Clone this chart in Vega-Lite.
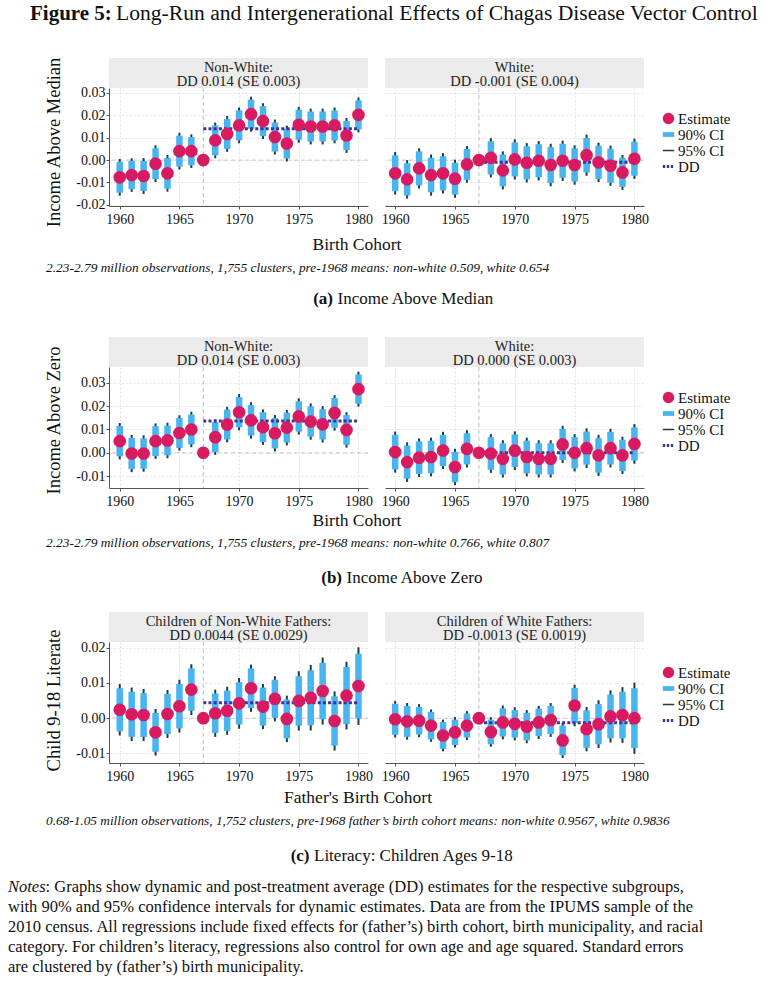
{
  "$schema": "https://vega.github.io/schema/vega-lite/v6.json",
  "padding": 0,
  "background": "white",
  "spacing": 0,
  "config": {
    "font": "Liberation Serif",
    "view": {"stroke": null},
    "axis": {"labelFont": "Liberation Serif", "labelFontSize": 14, "labelColor": "#111", "titleFont": "Liberation Serif", "titleFontWeight": "normal", "titleColor": "#111", "domainColor": "#555", "tickColor": "#555", "tickSize": 3, "gridColor": "#e2e2e2", "gridDash": [2, 2], "labelPadding": 3, "labelOverlap": false, "labelFlush": false},
    "legend": {"labelFont": "Liberation Serif", "labelFontSize": 15, "labelColor": "#111"},
    "text": {"font": "Liberation Serif", "color": "#111"}
  },
  "resolve": {"scale": {"color": "independent"}, "legend": {"color": "independent"}},
  "datasets": {
    "aNW": [
      {"year": 1960, "est": -0.0077, "lo90": -0.0146, "hi90": -0.0008, "lo95": -0.0159, "hi95": 0.0005},
      {"year": 1961, "est": -0.0067, "lo90": -0.0130, "hi90": -0.0004, "lo95": -0.0142, "hi95": 0.0008},
      {"year": 1962, "est": -0.0071, "lo90": -0.0138, "hi90": -0.0004, "lo95": -0.0151, "hi95": 0.0009},
      {"year": 1963, "est": -0.0016, "lo90": -0.0085, "hi90": 0.0053, "lo95": -0.0098, "hi95": 0.0066},
      {"year": 1964, "est": -0.0059, "lo90": -0.0128, "hi90": 0.0010, "lo95": -0.0141, "hi95": 0.0023},
      {"year": 1965, "est": 0.0040, "lo90": -0.0029, "hi90": 0.0109, "lo95": -0.0042, "hi95": 0.0122},
      {"year": 1966, "est": 0.0040, "lo90": -0.0023, "hi90": 0.0103, "lo95": -0.0035, "hi95": 0.0115},
      {"year": 1967, "est": 0, "lo90": 0, "hi90": 0, "lo95": 0, "hi95": 0},
      {"year": 1968, "est": 0.0088, "lo90": 0.0021, "hi90": 0.0155, "lo95": 0.0008, "hi95": 0.0168},
      {"year": 1969, "est": 0.0117, "lo90": 0.0050, "hi90": 0.0184, "lo95": 0.0037, "hi95": 0.0197},
      {"year": 1970, "est": 0.0155, "lo90": 0.0088, "hi90": 0.0222, "lo95": 0.0075, "hi95": 0.0235},
      {"year": 1971, "est": 0.0205, "lo90": 0.0140, "hi90": 0.0270, "lo95": 0.0127, "hi95": 0.0283},
      {"year": 1972, "est": 0.0174, "lo90": 0.0107, "hi90": 0.0241, "lo95": 0.0094, "hi95": 0.0254},
      {"year": 1973, "est": 0.0103, "lo90": 0.0038, "hi90": 0.0168, "lo95": 0.0025, "hi95": 0.0181},
      {"year": 1974, "est": 0.0074, "lo90": 0.0007, "hi90": 0.0141, "lo95": -0.0006, "hi95": 0.0154},
      {"year": 1975, "est": 0.0158, "lo90": 0.0091, "hi90": 0.0225, "lo95": 0.0078, "hi95": 0.0238},
      {"year": 1976, "est": 0.0150, "lo90": 0.0083, "hi90": 0.0217, "lo95": 0.0070, "hi95": 0.0230},
      {"year": 1977, "est": 0.0150, "lo90": 0.0083, "hi90": 0.0217, "lo95": 0.0070, "hi95": 0.0230},
      {"year": 1978, "est": 0.0155, "lo90": 0.0088, "hi90": 0.0222, "lo95": 0.0075, "hi95": 0.0235},
      {"year": 1979, "est": 0.0110, "lo90": 0.0045, "hi90": 0.0175, "lo95": 0.0032, "hi95": 0.0188},
      {"year": 1980, "est": 0.0202, "lo90": 0.0137, "hi90": 0.0267, "lo95": 0.0124, "hi95": 0.0280}
    ],
    "aW": [
      {"year": 1960, "est": -0.0059, "lo90": -0.0139, "hi90": 0.0021, "lo95": -0.0154, "hi95": 0.0036},
      {"year": 1961, "est": -0.0086, "lo90": -0.0158, "hi90": -0.0014, "lo95": -0.0172, "hi95": 0.0000},
      {"year": 1962, "est": -0.0037, "lo90": -0.0113, "hi90": 0.0039, "lo95": -0.0127, "hi95": 0.0053},
      {"year": 1963, "est": -0.0067, "lo90": -0.0144, "hi90": 0.0010, "lo95": -0.0159, "hi95": 0.0025},
      {"year": 1964, "est": -0.0059, "lo90": -0.0135, "hi90": 0.0017, "lo95": -0.0149, "hi95": 0.0031},
      {"year": 1965, "est": -0.0083, "lo90": -0.0154, "hi90": -0.0012, "lo95": -0.0168, "hi95": 0.0002},
      {"year": 1966, "est": -0.0019, "lo90": -0.0088, "hi90": 0.0050, "lo95": -0.0101, "hi95": 0.0063},
      {"year": 1967, "est": 0, "lo90": 0, "hi90": 0, "lo95": 0, "hi95": 0},
      {"year": 1968, "est": 0.0010, "lo90": -0.0064, "hi90": 0.0084, "lo95": -0.0078, "hi95": 0.0098},
      {"year": 1969, "est": -0.0046, "lo90": -0.0117, "hi90": 0.0025, "lo95": -0.0131, "hi95": 0.0039},
      {"year": 1970, "est": 0.0003, "lo90": -0.0073, "hi90": 0.0079, "lo95": -0.0087, "hi95": 0.0093},
      {"year": 1971, "est": -0.0012, "lo90": -0.0086, "hi90": 0.0062, "lo95": -0.0100, "hi95": 0.0076},
      {"year": 1972, "est": -0.0003, "lo90": -0.0077, "hi90": 0.0071, "lo95": -0.0091, "hi95": 0.0085},
      {"year": 1973, "est": -0.0022, "lo90": -0.0102, "hi90": 0.0058, "lo95": -0.0117, "hi95": 0.0073},
      {"year": 1974, "est": -0.0003, "lo90": -0.0079, "hi90": 0.0073, "lo95": -0.0093, "hi95": 0.0087},
      {"year": 1975, "est": -0.0022, "lo90": -0.0096, "hi90": 0.0052, "lo95": -0.0110, "hi95": 0.0066},
      {"year": 1976, "est": 0.0022, "lo90": -0.0055, "hi90": 0.0099, "lo95": -0.0070, "hi95": 0.0114},
      {"year": 1977, "est": -0.0010, "lo90": -0.0084, "hi90": 0.0064, "lo95": -0.0098, "hi95": 0.0078},
      {"year": 1978, "est": -0.0025, "lo90": -0.0101, "hi90": 0.0051, "lo95": -0.0115, "hi95": 0.0065},
      {"year": 1979, "est": -0.0055, "lo90": -0.0120, "hi90": 0.0010, "lo95": -0.0133, "hi95": 0.0023},
      {"year": 1980, "est": 0.0006, "lo90": -0.0070, "hi90": 0.0082, "lo95": -0.0084, "hi95": 0.0096}
    ],
    "bNW": [
      {"year": 1960, "est": 0.0050, "lo90": -0.0015, "hi90": 0.0115, "lo95": -0.0028, "hi95": 0.0128},
      {"year": 1961, "est": -0.0003, "lo90": -0.0070, "hi90": 0.0064, "lo95": -0.0083, "hi95": 0.0077},
      {"year": 1962, "est": -0.0003, "lo90": -0.0068, "hi90": 0.0062, "lo95": -0.0081, "hi95": 0.0075},
      {"year": 1963, "est": 0.0050, "lo90": -0.0014, "hi90": 0.0114, "lo95": -0.0026, "hi95": 0.0126},
      {"year": 1964, "est": 0.0053, "lo90": -0.0011, "hi90": 0.0117, "lo95": -0.0023, "hi95": 0.0129},
      {"year": 1965, "est": 0.0085, "lo90": 0.0021, "hi90": 0.0149, "lo95": 0.0009, "hi95": 0.0161},
      {"year": 1966, "est": 0.0100, "lo90": 0.0036, "hi90": 0.0164, "lo95": 0.0024, "hi95": 0.0176},
      {"year": 1967, "est": 0, "lo90": 0, "hi90": 0, "lo95": 0, "hi95": 0},
      {"year": 1968, "est": 0.0067, "lo90": 0.0003, "hi90": 0.0131, "lo95": -0.0009, "hi95": 0.0143},
      {"year": 1969, "est": 0.0121, "lo90": 0.0057, "hi90": 0.0185, "lo95": 0.0045, "hi95": 0.0197},
      {"year": 1970, "est": 0.0174, "lo90": 0.0109, "hi90": 0.0239, "lo95": 0.0096, "hi95": 0.0252},
      {"year": 1971, "est": 0.0139, "lo90": 0.0074, "hi90": 0.0204, "lo95": 0.0061, "hi95": 0.0217},
      {"year": 1972, "est": 0.0110, "lo90": 0.0046, "hi90": 0.0174, "lo95": 0.0034, "hi95": 0.0186},
      {"year": 1973, "est": 0.0084, "lo90": 0.0019, "hi90": 0.0149, "lo95": 0.0006, "hi95": 0.0162},
      {"year": 1974, "est": 0.0108, "lo90": 0.0044, "hi90": 0.0172, "lo95": 0.0032, "hi95": 0.0184},
      {"year": 1975, "est": 0.0156, "lo90": 0.0091, "hi90": 0.0221, "lo95": 0.0078, "hi95": 0.0234},
      {"year": 1976, "est": 0.0134, "lo90": 0.0069, "hi90": 0.0199, "lo95": 0.0056, "hi95": 0.0212},
      {"year": 1977, "est": 0.0122, "lo90": 0.0057, "hi90": 0.0187, "lo95": 0.0044, "hi95": 0.0200},
      {"year": 1978, "est": 0.0171, "lo90": 0.0107, "hi90": 0.0235, "lo95": 0.0095, "hi95": 0.0247},
      {"year": 1979, "est": 0.0098, "lo90": 0.0034, "hi90": 0.0162, "lo95": 0.0022, "hi95": 0.0174},
      {"year": 1980, "est": 0.0273, "lo90": 0.0210, "hi90": 0.0336, "lo95": 0.0198, "hi95": 0.0348}
    ],
    "bW": [
      {"year": 1960, "est": 0.0003, "lo90": -0.0071, "hi90": 0.0077, "lo95": -0.0085, "hi95": 0.0091},
      {"year": 1961, "est": -0.0040, "lo90": -0.0111, "hi90": 0.0031, "lo95": -0.0125, "hi95": 0.0045},
      {"year": 1962, "est": -0.0021, "lo90": -0.0091, "hi90": 0.0049, "lo95": -0.0104, "hi95": 0.0062},
      {"year": 1963, "est": -0.0018, "lo90": -0.0088, "hi90": 0.0052, "lo95": -0.0101, "hi95": 0.0065},
      {"year": 1964, "est": 0.0010, "lo90": -0.0057, "hi90": 0.0077, "lo95": -0.0070, "hi95": 0.0090},
      {"year": 1965, "est": -0.0061, "lo90": -0.0126, "hi90": 0.0004, "lo95": -0.0139, "hi95": 0.0017},
      {"year": 1966, "est": 0.0017, "lo90": -0.0050, "hi90": 0.0084, "lo95": -0.0063, "hi95": 0.0097},
      {"year": 1967, "est": 0, "lo90": 0, "hi90": 0, "lo95": 0, "hi95": 0},
      {"year": 1968, "est": -0.0003, "lo90": -0.0073, "hi90": 0.0067, "lo95": -0.0086, "hi95": 0.0080},
      {"year": 1969, "est": -0.0026, "lo90": -0.0093, "hi90": 0.0041, "lo95": -0.0106, "hi95": 0.0054},
      {"year": 1970, "est": 0.0009, "lo90": -0.0061, "hi90": 0.0079, "lo95": -0.0074, "hi95": 0.0092},
      {"year": 1971, "est": -0.0018, "lo90": -0.0088, "hi90": 0.0052, "lo95": -0.0101, "hi95": 0.0065},
      {"year": 1972, "est": -0.0026, "lo90": -0.0093, "hi90": 0.0041, "lo95": -0.0106, "hi95": 0.0054},
      {"year": 1973, "est": -0.0026, "lo90": -0.0093, "hi90": 0.0041, "lo95": -0.0106, "hi95": 0.0054},
      {"year": 1974, "est": 0.0036, "lo90": -0.0031, "hi90": 0.0103, "lo95": -0.0044, "hi95": 0.0116},
      {"year": 1975, "est": 0.0000, "lo90": -0.0067, "hi90": 0.0067, "lo95": -0.0080, "hi95": 0.0080},
      {"year": 1976, "est": 0.0020, "lo90": -0.0051, "hi90": 0.0091, "lo95": -0.0065, "hi95": 0.0105},
      {"year": 1977, "est": -0.0011, "lo90": -0.0085, "hi90": 0.0063, "lo95": -0.0099, "hi95": 0.0077},
      {"year": 1978, "est": 0.0020, "lo90": -0.0050, "hi90": 0.0090, "lo95": -0.0063, "hi95": 0.0103},
      {"year": 1979, "est": -0.0011, "lo90": -0.0078, "hi90": 0.0056, "lo95": -0.0091, "hi95": 0.0069},
      {"year": 1980, "est": 0.0038, "lo90": -0.0033, "hi90": 0.0109, "lo95": -0.0047, "hi95": 0.0123}
    ],
    "cNW": [
      {"year": 1960, "est": 0.0024, "lo90": -0.0037, "hi90": 0.0085, "lo95": -0.0049, "hi95": 0.0097},
      {"year": 1961, "est": 0.0011, "lo90": -0.0053, "hi90": 0.0075, "lo95": -0.0065, "hi95": 0.0087},
      {"year": 1962, "est": 0.0009, "lo90": -0.0053, "hi90": 0.0071, "lo95": -0.0065, "hi95": 0.0083},
      {"year": 1963, "est": -0.0040, "lo90": -0.0095, "hi90": 0.0015, "lo95": -0.0106, "hi95": 0.0026},
      {"year": 1964, "est": 0.0012, "lo90": -0.0045, "hi90": 0.0069, "lo95": -0.0056, "hi95": 0.0080},
      {"year": 1965, "est": 0.0034, "lo90": -0.0029, "hi90": 0.0097, "lo95": -0.0041, "hi95": 0.0109},
      {"year": 1966, "est": 0.0081, "lo90": 0.0021, "hi90": 0.0141, "lo95": 0.0009, "hi95": 0.0153},
      {"year": 1967, "est": 0, "lo90": 0, "hi90": 0, "lo95": 0, "hi95": 0},
      {"year": 1968, "est": 0.0014, "lo90": -0.0042, "hi90": 0.0070, "lo95": -0.0053, "hi95": 0.0081},
      {"year": 1969, "est": 0.0021, "lo90": -0.0036, "hi90": 0.0078, "lo95": -0.0047, "hi95": 0.0089},
      {"year": 1970, "est": 0.0042, "lo90": -0.0018, "hi90": 0.0102, "lo95": -0.0030, "hi95": 0.0114},
      {"year": 1971, "est": 0.0085, "lo90": 0.0029, "hi90": 0.0141, "lo95": 0.0018, "hi95": 0.0152},
      {"year": 1972, "est": 0.0033, "lo90": -0.0021, "hi90": 0.0087, "lo95": -0.0031, "hi95": 0.0097},
      {"year": 1973, "est": 0.0055, "lo90": 0.0001, "hi90": 0.0109, "lo95": -0.0009, "hi95": 0.0119},
      {"year": 1974, "est": -0.0002, "lo90": -0.0057, "hi90": 0.0053, "lo95": -0.0068, "hi95": 0.0064},
      {"year": 1975, "est": 0.0049, "lo90": -0.0021, "hi90": 0.0119, "lo95": -0.0035, "hi95": 0.0133},
      {"year": 1976, "est": 0.0058, "lo90": -0.0020, "hi90": 0.0136, "lo95": -0.0035, "hi95": 0.0151},
      {"year": 1977, "est": 0.0077, "lo90": -0.0003, "hi90": 0.0157, "lo95": -0.0018, "hi95": 0.0172},
      {"year": 1978, "est": -0.0008, "lo90": -0.0078, "hi90": 0.0062, "lo95": -0.0092, "hi95": 0.0076},
      {"year": 1979, "est": 0.0064, "lo90": -0.0017, "hi90": 0.0145, "lo95": -0.0032, "hi95": 0.0160},
      {"year": 1980, "est": 0.0091, "lo90": -0.0001, "hi90": 0.0183, "lo95": -0.0019, "hi95": 0.0201}
    ],
    "cW": [
      {"year": 1960, "est": -0.0003, "lo90": -0.0047, "hi90": 0.0041, "lo95": -0.0055, "hi95": 0.0049},
      {"year": 1961, "est": -0.0009, "lo90": -0.0053, "hi90": 0.0035, "lo95": -0.0061, "hi95": 0.0043},
      {"year": 1962, "est": -0.0007, "lo90": -0.0046, "hi90": 0.0032, "lo95": -0.0054, "hi95": 0.0040},
      {"year": 1963, "est": -0.0021, "lo90": -0.0060, "hi90": 0.0018, "lo95": -0.0067, "hi95": 0.0025},
      {"year": 1964, "est": -0.0049, "lo90": -0.0087, "hi90": -0.0011, "lo95": -0.0094, "hi95": -0.0004},
      {"year": 1965, "est": -0.0040, "lo90": -0.0076, "hi90": -0.0004, "lo95": -0.0083, "hi95": 0.0003},
      {"year": 1966, "est": -0.0021, "lo90": -0.0055, "hi90": 0.0013, "lo95": -0.0062, "hi95": 0.0020},
      {"year": 1967, "est": 0, "lo90": 0, "hi90": 0, "lo95": 0, "hi95": 0},
      {"year": 1968, "est": -0.0039, "lo90": -0.0074, "hi90": -0.0004, "lo95": -0.0081, "hi95": 0.0003},
      {"year": 1969, "est": -0.0012, "lo90": -0.0052, "hi90": 0.0028, "lo95": -0.0060, "hi95": 0.0036},
      {"year": 1970, "est": -0.0016, "lo90": -0.0055, "hi90": 0.0023, "lo95": -0.0063, "hi95": 0.0031},
      {"year": 1971, "est": -0.0024, "lo90": -0.0063, "hi90": 0.0015, "lo95": -0.0071, "hi95": 0.0023},
      {"year": 1972, "est": -0.0012, "lo90": -0.0051, "hi90": 0.0027, "lo95": -0.0059, "hi95": 0.0035},
      {"year": 1973, "est": -0.0005, "lo90": -0.0045, "hi90": 0.0035, "lo95": -0.0053, "hi95": 0.0043},
      {"year": 1974, "est": -0.0063, "lo90": -0.0105, "hi90": -0.0021, "lo95": -0.0113, "hi95": -0.0013},
      {"year": 1975, "est": 0.0036, "lo90": -0.0014, "hi90": 0.0086, "lo95": -0.0023, "hi95": 0.0095},
      {"year": 1976, "est": -0.0031, "lo90": -0.0084, "hi90": 0.0022, "lo95": -0.0094, "hi95": 0.0032},
      {"year": 1977, "est": -0.0017, "lo90": -0.0074, "hi90": 0.0040, "lo95": -0.0085, "hi95": 0.0051},
      {"year": 1978, "est": 0.0005, "lo90": -0.0057, "hi90": 0.0067, "lo95": -0.0069, "hi95": 0.0079},
      {"year": 1979, "est": 0.0009, "lo90": -0.0057, "hi90": 0.0075, "lo95": -0.0070, "hi95": 0.0088},
      {"year": 1980, "est": 0.0000, "lo90": -0.0085, "hi90": 0.0085, "lo95": -0.0101, "hi95": 0.0101}
    ]
  },
  "vconcat": [
    {
      "width": 781, "height": 56,
      "data": {"values": [{"a": "Figure 5:", "b": "Long-Run and Intergenerational Effects of Chagas Disease Vector Control"}]},
      "layer": [
        {"mark": {"type": "text", "fontSize": 21, "fontWeight": "bold", "align": "left", "baseline": "middle"},
         "encoding": {"text": {"field": "a"}, "x": {"datum": 30, "type": "quantitative", "scale": {"domain": [0, 781], "range": [0, 781]}, "axis": null}, "y": {"datum": 14, "type": "quantitative", "scale": {"domain": [0, 56], "range": [0, 56]}, "axis": null}}},
        {"mark": {"type": "text", "fontSize": 21.6, "align": "left", "baseline": "middle"},
         "encoding": {"text": {"field": "b"}, "x": {"datum": 116, "type": "quantitative", "scale": {"domain": [0, 781], "range": [0, 781]}, "axis": null}, "y": {"datum": 14, "type": "quantitative", "scale": {"domain": [0, 56], "range": [0, 56]}, "axis": null}}}
      ]
    },
    {
      "columns": 3,
      "spacing": {"row": 0, "column": 17},
      "bounds": "flush",
      "resolve": {"scale": {"color": "independent"}, "legend": {"color": "independent"}},
      "concat": [
        {"width": 92, "height": 30, "data": {"values": []}, "mark": "text"},
        {"width": 259, "height": 30, "view": {"fill": "#ebebeb"},
         "data": {"values": [{"l1": "Non-White:", "l2": "DD 0.014 (SE 0.003)"}]},
         "layer": [
           {"mark": {"type": "text", "fontSize": 14.5, "baseline": "middle", "color": "#222"}, "encoding": {"text": {"field": "l1"}, "x": {"datum": 0.5, "type": "quantitative", "scale": {"domain": [0, 1]}, "axis": null}, "y": {"datum": 9.5, "type": "quantitative", "scale": {"domain": [0, 30], "range": [0, 30]}, "axis": null}}},
           {"mark": {"type": "text", "fontSize": 14.5, "baseline": "middle", "color": "#222"}, "encoding": {"text": {"field": "l2"}, "x": {"datum": 0.5, "type": "quantitative", "scale": {"domain": [0, 1]}, "axis": null}, "y": {"datum": 24, "type": "quantitative", "scale": {"domain": [0, 30], "range": [0, 30]}, "axis": null}}}
         ]},
        {"width": 259, "height": 30, "view": {"fill": "#ebebeb"},
         "data": {"values": [{"l1": "White:", "l2": "DD -0.001 (SE 0.004)"}]},
         "layer": [
           {"mark": {"type": "text", "fontSize": 14.5, "baseline": "middle", "color": "#222"}, "encoding": {"text": {"field": "l1"}, "x": {"datum": 0.5, "type": "quantitative", "scale": {"domain": [0, 1]}, "axis": null}, "y": {"datum": 9.5, "type": "quantitative", "scale": {"domain": [0, 30], "range": [0, 30]}, "axis": null}}},
           {"mark": {"type": "text", "fontSize": 14.5, "baseline": "middle", "color": "#222"}, "encoding": {"text": {"field": "l2"}, "x": {"datum": 0.5, "type": "quantitative", "scale": {"domain": [0, 1]}, "axis": null}, "y": {"datum": 24, "type": "quantitative", "scale": {"domain": [0, 30], "range": [0, 30]}, "axis": null}}}
         ]},
        {"width": 92, "height": 118, "data": {"values": []}, "mark": "text"},
        {"width": 259, "height": 118,
         "layer": [
           {"data": {"values": [{"start": 1967, "end": 1980, "dd": 0.014}]}, "mark": {"type": "rule", "color": "#bdbdbd", "strokeDash": [4, 3], "strokeWidth": 1},
            "encoding": {"x": {"field": "start", "type": "quantitative", "scale": {"domain": [1959.1, 1980.8], "nice": false, "zero": false}, "axis": {"values": [1960, 1965, 1970, 1975, 1980], "tickCount": 30, "format": "d", "title": null, "grid": true}}}},
           {"data": {"values": [{"start": 1967, "end": 1980, "dd": 0.014}]}, "mark": {"type": "rule", "color": "#c8c8c8", "strokeDash": [4, 3], "strokeWidth": 1},
            "encoding": {"y": {"datum": 0, "type": "quantitative", "scale": {"domain": [-0.0205, 0.0322], "nice": false, "zero": false}, "axis": {"values": [-0.02, -0.01, 0, 0.01, 0.02, 0.03], "tickCount": 30, "labelExpr": "datum.value < 0 ? '-' + format(-datum.value, '.2f') : format(datum.value, '.2f')", "labelOverlap": false, "title": "Income Above Median", "titleFontSize": 18.5, "titlePadding": 12, "titleY": 54, "labelPadding": 1, "grid": true}}}},
           {"data": {"name": "aNW"}, "mark": {"type": "rule", "color": "#1d3f38", "strokeWidth": 2},
            "encoding": {"x": {"field": "year", "type": "quantitative", "scale": {"domain": [1959.1, 1980.8], "nice": false, "zero": false}, "axis": {"values": [1960, 1965, 1970, 1975, 1980], "tickCount": 30, "format": "d", "title": null, "grid": true}},
                         "y": {"field": "lo95", "type": "quantitative", "scale": {"domain": [-0.0205, 0.0322], "nice": false, "zero": false}, "axis": {"values": [-0.02, -0.01, 0, 0.01, 0.02, 0.03], "tickCount": 30, "labelExpr": "datum.value < 0 ? '-' + format(-datum.value, '.2f') : format(datum.value, '.2f')", "labelOverlap": false, "title": "Income Above Median", "titleFontSize": 18.5, "titlePadding": 12, "titleY": 54, "labelPadding": 1, "grid": true}},
                         "y2": {"field": "hi95"}}},
           {"data": {"name": "aNW"}, "mark": {"type": "rule", "color": "#48b4f0", "strokeWidth": 6.5},
            "encoding": {"x": {"field": "year", "type": "quantitative"}, "y": {"field": "lo90", "type": "quantitative"}, "y2": {"field": "hi90"}}},
           {"data": {"values": [{"start": 1967, "end": 1980, "dd": 0.014}]}, "mark": {"type": "rule", "color": "#40309a", "strokeDash": [3, 2.2], "strokeWidth": 3},
            "encoding": {"x": {"field": "start", "type": "quantitative"}, "x2": {"field": "end"}, "y": {"field": "dd", "type": "quantitative"}}},
           {"data": {"name": "aNW"}, "mark": {"type": "point", "filled": true, "size": 160, "color": "#d81b60", "opacity": 1},
            "encoding": {"x": {"field": "year", "type": "quantitative"}, "y": {"field": "est", "type": "quantitative"}}}
         ]},
        {"width": 259, "height": 118,
         "layer": [
           {"data": {"values": [{"start": 1967, "end": 1980, "dd": -0.001}]}, "mark": {"type": "rule", "color": "#bdbdbd", "strokeDash": [4, 3], "strokeWidth": 1},
            "encoding": {"x": {"field": "start", "type": "quantitative", "scale": {"domain": [1959.15, 1980.8], "nice": false, "zero": false}, "axis": {"values": [1960, 1965, 1970, 1975, 1980], "tickCount": 30, "format": "d", "title": null, "grid": true}}}},
           {"data": {"values": [{"start": 1967, "end": 1980, "dd": -0.001}]}, "mark": {"type": "rule", "color": "#c8c8c8", "strokeDash": [4, 3], "strokeWidth": 1},
            "encoding": {"y": {"datum": 0, "type": "quantitative", "scale": {"domain": [-0.0205, 0.0322], "nice": false, "zero": false}, "axis": {"values": [-0.02, -0.01, 0, 0.01, 0.02, 0.03], "tickCount": 30, "labels": false, "ticks": false, "domain": false, "title": null, "grid": true}}}},
           {"data": {"name": "aW"}, "mark": {"type": "rule", "strokeWidth": 2},
            "encoding": {"x": {"field": "year", "type": "quantitative", "scale": {"domain": [1959.15, 1980.8], "nice": false, "zero": false}, "axis": {"values": [1960, 1965, 1970, 1975, 1980], "tickCount": 30, "format": "d", "title": null, "grid": true}},
                         "y": {"field": "lo95", "type": "quantitative", "scale": {"domain": [-0.0205, 0.0322], "nice": false, "zero": false}, "axis": {"values": [-0.02, -0.01, 0, 0.01, 0.02, 0.03], "tickCount": 30, "labels": false, "ticks": false, "domain": false, "title": null, "grid": true}},
                         "y2": {"field": "hi95"},
                         "color": {"datum": "95% CI", "type": "nominal", "scale": {"domain": ["Estimate", "90% CI", "95% CI", "DD"], "range": ["#d81b60", "#48b4f0", "#1d3f38", "#40309a"]},
                           "legend": {"title": null, "orient": "none", "legendX": 276, "legendY": 23, "padding": 0, "rowPadding": 0, "symbolSize": 130, "labelFontSize": 15, "labelOffset": 2,
                             "encode": {"symbols": {"update": {
                               "shape": {"signal": "datum.value === 'Estimate' ? 'circle' : datum.value === '90% CI' ? 'M-1,-0.42H1V0.42H-1Z' : 'M-1,0H1'"},
                               "fill": {"signal": "datum.value === 'Estimate' ? '#d81b60' : datum.value === '90% CI' ? '#48b4f0' : 'transparent'"},
                               "stroke": {"signal": "datum.value === '95% CI' ? '#1d3f38' : datum.value === 'DD' ? '#40309a' : 'transparent'"},
                               "strokeWidth": {"signal": "datum.value === 'DD' ? 3 : datum.value === '95% CI' ? 1.6 : 0"},
                               "strokeDash": {"signal": "datum.value === 'DD' ? [2.4, 1.6] : [1, 0]"},
                               "opacity": {"value": 1},
                               "size": {"value": 130}
                             }}}}}}},
           {"data": {"name": "aW"}, "mark": {"type": "rule", "strokeWidth": 6.5},
            "encoding": {"x": {"field": "year", "type": "quantitative"}, "y": {"field": "lo90", "type": "quantitative"}, "y2": {"field": "hi90"}, "color": {"datum": "90% CI", "type": "nominal"}}},
           {"data": {"values": [{"start": 1967, "end": 1980, "dd": -0.001}]}, "mark": {"type": "rule", "strokeDash": [3, 2.2], "strokeWidth": 3},
            "encoding": {"x": {"field": "start", "type": "quantitative"}, "x2": {"field": "end"}, "y": {"field": "dd", "type": "quantitative"}, "color": {"datum": "DD", "type": "nominal"}}},
           {"data": {"name": "aW"}, "mark": {"type": "point", "filled": true, "size": 160, "opacity": 1},
            "encoding": {"x": {"field": "year", "type": "quantitative"}, "y": {"field": "est", "type": "quantitative"}, "color": {"datum": "Estimate", "type": "nominal"}}}
         ]}
      ]
    },
    {
      "width": 781, "height": 109,
      "layer": [
        {"data": {"values": [{"t": "Birth Cohort"}]}, "mark": {"type": "text", "fontSize": 17.5, "align": "center", "baseline": "middle"},
         "encoding": {"text": {"field": "t"}, "x": {"datum": 357, "type": "quantitative", "scale": {"domain": [0, 781], "range": [0, 781]}, "axis": null}, "y": {"datum": 16.7, "type": "quantitative", "scale": {"domain": [0, 109], "range": [0, 109]}, "axis": null}}},
        {"data": {"values": [{"t": "2.23-2.79 million observations, 1,755 clusters, pre-1968 means: non-white 0.509, white 0.654"}]}, "mark": {"type": "text", "fontSize": 13.4, "fontStyle": "italic", "align": "left", "baseline": "middle"},
         "encoding": {"text": {"field": "t"}, "x": {"datum": 46, "type": "quantitative", "scale": {"domain": [0, 781], "range": [0, 781]}, "axis": null}, "y": {"datum": 39.5, "type": "quantitative", "scale": {"domain": [0, 109], "range": [0, 109]}, "axis": null}}},
        {"data": {"values": [{"t": "(a)"}]}, "mark": {"type": "text", "fontSize": 17, "fontWeight": "bold", "align": "right", "baseline": "middle"},
         "encoding": {"text": {"field": "t"}, "x": {"datum": 333, "type": "quantitative", "scale": {"domain": [0, 781], "range": [0, 781]}, "axis": null}, "y": {"datum": 71, "type": "quantitative", "scale": {"domain": [0, 109], "range": [0, 109]}, "axis": null}}},
        {"data": {"values": [{"t": "Income Above Median"}]}, "mark": {"type": "text", "fontSize": 17, "align": "left", "baseline": "middle", "dx": 4.5},
         "encoding": {"text": {"field": "t"}, "x": {"datum": 333, "type": "quantitative", "scale": {"domain": [0, 781], "range": [0, 781]}, "axis": null}, "y": {"datum": 71, "type": "quantitative", "scale": {"domain": [0, 109], "range": [0, 109]}, "axis": null}}}
      ]
    },
    {
      "columns": 3,
      "spacing": {"row": 0, "column": 17},
      "bounds": "flush",
      "resolve": {"scale": {"color": "independent"}, "legend": {"color": "independent"}},
      "concat": [
        {"width": 92, "height": 30, "data": {"values": []}, "mark": "text"},
        {"width": 259, "height": 30, "view": {"fill": "#ebebeb"},
         "data": {"values": [{"l1": "Non-White:", "l2": "DD 0.014 (SE 0.003)"}]},
         "layer": [
           {"mark": {"type": "text", "fontSize": 14.5, "baseline": "middle", "color": "#222"}, "encoding": {"text": {"field": "l1"}, "x": {"datum": 0.5, "type": "quantitative", "scale": {"domain": [0, 1]}, "axis": null}, "y": {"datum": 9.5, "type": "quantitative", "scale": {"domain": [0, 30], "range": [0, 30]}, "axis": null}}},
           {"mark": {"type": "text", "fontSize": 14.5, "baseline": "middle", "color": "#222"}, "encoding": {"text": {"field": "l2"}, "x": {"datum": 0.5, "type": "quantitative", "scale": {"domain": [0, 1]}, "axis": null}, "y": {"datum": 24, "type": "quantitative", "scale": {"domain": [0, 30], "range": [0, 30]}, "axis": null}}}
         ]},
        {"width": 259, "height": 30, "view": {"fill": "#ebebeb"},
         "data": {"values": [{"l1": "White:", "l2": "DD 0.000 (SE 0.003)"}]},
         "layer": [
           {"mark": {"type": "text", "fontSize": 14.5, "baseline": "middle", "color": "#222"}, "encoding": {"text": {"field": "l1"}, "x": {"datum": 0.5, "type": "quantitative", "scale": {"domain": [0, 1]}, "axis": null}, "y": {"datum": 9.5, "type": "quantitative", "scale": {"domain": [0, 30], "range": [0, 30]}, "axis": null}}},
           {"mark": {"type": "text", "fontSize": 14.5, "baseline": "middle", "color": "#222"}, "encoding": {"text": {"field": "l2"}, "x": {"datum": 0.5, "type": "quantitative", "scale": {"domain": [0, 1]}, "axis": null}, "y": {"datum": 24, "type": "quantitative", "scale": {"domain": [0, 30], "range": [0, 30]}, "axis": null}}}
         ]},
        {"width": 92, "height": 121, "data": {"values": []}, "mark": "text"},
        {"width": 259, "height": 121,
         "layer": [
           {"data": {"values": [{"start": 1967, "end": 1980, "dd": 0.0136}]}, "mark": {"type": "rule", "color": "#bdbdbd", "strokeDash": [4, 3], "strokeWidth": 1},
            "encoding": {"x": {"field": "start", "type": "quantitative", "scale": {"domain": [1959.1, 1980.8], "nice": false, "zero": false}, "axis": {"values": [1960, 1965, 1970, 1975, 1980], "tickCount": 30, "format": "d", "title": null, "grid": true}}}},
           {"data": {"values": [{"start": 1967, "end": 1980, "dd": 0.0136}]}, "mark": {"type": "rule", "color": "#c8c8c8", "strokeDash": [4, 3], "strokeWidth": 1},
            "encoding": {"y": {"datum": 0, "type": "quantitative", "scale": {"domain": [-0.0151, 0.0368], "nice": false, "zero": false}, "axis": {"values": [-0.01, 0, 0.01, 0.02, 0.03], "tickCount": 30, "labelExpr": "datum.value < 0 ? '-' + format(-datum.value, '.2f') : format(datum.value, '.2f')", "labelOverlap": false, "title": "Income Above Zero", "titleFontSize": 18.5, "titlePadding": 12, "titleY": 53, "labelPadding": 1, "grid": true}}}},
           {"data": {"name": "bNW"}, "mark": {"type": "rule", "color": "#1d3f38", "strokeWidth": 2},
            "encoding": {"x": {"field": "year", "type": "quantitative", "scale": {"domain": [1959.1, 1980.8], "nice": false, "zero": false}, "axis": {"values": [1960, 1965, 1970, 1975, 1980], "tickCount": 30, "format": "d", "title": null, "grid": true}},
                         "y": {"field": "lo95", "type": "quantitative", "scale": {"domain": [-0.0151, 0.0368], "nice": false, "zero": false}, "axis": {"values": [-0.01, 0, 0.01, 0.02, 0.03], "tickCount": 30, "labelExpr": "datum.value < 0 ? '-' + format(-datum.value, '.2f') : format(datum.value, '.2f')", "labelOverlap": false, "title": "Income Above Zero", "titleFontSize": 18.5, "titlePadding": 12, "titleY": 53, "labelPadding": 1, "grid": true}},
                         "y2": {"field": "hi95"}}},
           {"data": {"name": "bNW"}, "mark": {"type": "rule", "color": "#48b4f0", "strokeWidth": 6.5},
            "encoding": {"x": {"field": "year", "type": "quantitative"}, "y": {"field": "lo90", "type": "quantitative"}, "y2": {"field": "hi90"}}},
           {"data": {"values": [{"start": 1967, "end": 1980, "dd": 0.0136}]}, "mark": {"type": "rule", "color": "#40309a", "strokeDash": [3, 2.2], "strokeWidth": 3},
            "encoding": {"x": {"field": "start", "type": "quantitative"}, "x2": {"field": "end"}, "y": {"field": "dd", "type": "quantitative"}}},
           {"data": {"name": "bNW"}, "mark": {"type": "point", "filled": true, "size": 160, "color": "#d81b60", "opacity": 1},
            "encoding": {"x": {"field": "year", "type": "quantitative"}, "y": {"field": "est", "type": "quantitative"}}}
         ]},
        {"width": 259, "height": 121,
         "layer": [
           {"data": {"values": [{"start": 1967, "end": 1980, "dd": 0.0}]}, "mark": {"type": "rule", "color": "#bdbdbd", "strokeDash": [4, 3], "strokeWidth": 1},
            "encoding": {"x": {"field": "start", "type": "quantitative", "scale": {"domain": [1959.15, 1980.8], "nice": false, "zero": false}, "axis": {"values": [1960, 1965, 1970, 1975, 1980], "tickCount": 30, "format": "d", "title": null, "grid": true}}}},
           {"data": {"values": [{"start": 1967, "end": 1980, "dd": 0.0}]}, "mark": {"type": "rule", "color": "#c8c8c8", "strokeDash": [4, 3], "strokeWidth": 1},
            "encoding": {"y": {"datum": 0, "type": "quantitative", "scale": {"domain": [-0.0151, 0.0368], "nice": false, "zero": false}, "axis": {"values": [-0.01, 0, 0.01, 0.02, 0.03], "tickCount": 30, "labels": false, "ticks": false, "domain": false, "title": null, "grid": true}}}},
           {"data": {"name": "bW"}, "mark": {"type": "rule", "strokeWidth": 2},
            "encoding": {"x": {"field": "year", "type": "quantitative", "scale": {"domain": [1959.15, 1980.8], "nice": false, "zero": false}, "axis": {"values": [1960, 1965, 1970, 1975, 1980], "tickCount": 30, "format": "d", "title": null, "grid": true}},
                         "y": {"field": "lo95", "type": "quantitative", "scale": {"domain": [-0.0151, 0.0368], "nice": false, "zero": false}, "axis": {"values": [-0.01, 0, 0.01, 0.02, 0.03], "tickCount": 30, "labels": false, "ticks": false, "domain": false, "title": null, "grid": true}},
                         "y2": {"field": "hi95"},
                         "color": {"datum": "95% CI", "type": "nominal", "scale": {"domain": ["Estimate", "90% CI", "95% CI", "DD"], "range": ["#d81b60", "#48b4f0", "#1d3f38", "#40309a"]},
                           "legend": {"title": null, "orient": "none", "legendX": 276, "legendY": 23, "padding": 0, "rowPadding": 0, "symbolSize": 130, "labelFontSize": 15, "labelOffset": 2,
                             "encode": {"symbols": {"update": {
                               "shape": {"signal": "datum.value === 'Estimate' ? 'circle' : datum.value === '90% CI' ? 'M-1,-0.42H1V0.42H-1Z' : 'M-1,0H1'"},
                               "fill": {"signal": "datum.value === 'Estimate' ? '#d81b60' : datum.value === '90% CI' ? '#48b4f0' : 'transparent'"},
                               "stroke": {"signal": "datum.value === '95% CI' ? '#1d3f38' : datum.value === 'DD' ? '#40309a' : 'transparent'"},
                               "strokeWidth": {"signal": "datum.value === 'DD' ? 3 : datum.value === '95% CI' ? 1.6 : 0"},
                               "strokeDash": {"signal": "datum.value === 'DD' ? [2.4, 1.6] : [1, 0]"},
                               "opacity": {"value": 1},
                               "size": {"value": 130}
                             }}}}}}},
           {"data": {"name": "bW"}, "mark": {"type": "rule", "strokeWidth": 6.5},
            "encoding": {"x": {"field": "year", "type": "quantitative"}, "y": {"field": "lo90", "type": "quantitative"}, "y2": {"field": "hi90"}, "color": {"datum": "90% CI", "type": "nominal"}}},
           {"data": {"values": [{"start": 1967, "end": 1980, "dd": 0.0}]}, "mark": {"type": "rule", "strokeDash": [3, 2.2], "strokeWidth": 3},
            "encoding": {"x": {"field": "start", "type": "quantitative"}, "x2": {"field": "end"}, "y": {"field": "dd", "type": "quantitative"}, "color": {"datum": "DD", "type": "nominal"}}},
           {"data": {"name": "bW"}, "mark": {"type": "point", "filled": true, "size": 160, "opacity": 1},
            "encoding": {"x": {"field": "year", "type": "quantitative"}, "y": {"field": "est", "type": "quantitative"}, "color": {"datum": "Estimate", "type": "nominal"}}}
         ]}
      ]
    },
    {
      "width": 781, "height": 104,
      "layer": [
        {"data": {"values": [{"t": "Birth Cohort"}]}, "mark": {"type": "text", "fontSize": 17.5, "align": "center", "baseline": "middle"},
         "encoding": {"text": {"field": "t"}, "x": {"datum": 357, "type": "quantitative", "scale": {"domain": [0, 781], "range": [0, 781]}, "axis": null}, "y": {"datum": 13, "type": "quantitative", "scale": {"domain": [0, 104], "range": [0, 104]}, "axis": null}}},
        {"data": {"values": [{"t": "2.23-2.79 million observations, 1,755 clusters, pre-1968 means: non-white 0.766, white 0.807"}]}, "mark": {"type": "text", "fontSize": 13.4, "fontStyle": "italic", "align": "left", "baseline": "middle"},
         "encoding": {"text": {"field": "t"}, "x": {"datum": 46, "type": "quantitative", "scale": {"domain": [0, 781], "range": [0, 781]}, "axis": null}, "y": {"datum": 35, "type": "quantitative", "scale": {"domain": [0, 104], "range": [0, 104]}, "axis": null}}},
        {"data": {"values": [{"t": "(b)"}]}, "mark": {"type": "text", "fontSize": 17, "fontWeight": "bold", "align": "right", "baseline": "middle"},
         "encoding": {"text": {"field": "t"}, "x": {"datum": 342, "type": "quantitative", "scale": {"domain": [0, 781], "range": [0, 781]}, "axis": null}, "y": {"datum": 69.5, "type": "quantitative", "scale": {"domain": [0, 104], "range": [0, 104]}, "axis": null}}},
        {"data": {"values": [{"t": "Income Above Zero"}]}, "mark": {"type": "text", "fontSize": 17, "align": "left", "baseline": "middle", "dx": 4.5},
         "encoding": {"text": {"field": "t"}, "x": {"datum": 342, "type": "quantitative", "scale": {"domain": [0, 781], "range": [0, 781]}, "axis": null}, "y": {"datum": 69.5, "type": "quantitative", "scale": {"domain": [0, 104], "range": [0, 104]}, "axis": null}}}
      ]
    },
    {
      "columns": 3,
      "spacing": {"row": 0, "column": 17},
      "bounds": "flush",
      "resolve": {"scale": {"color": "independent"}, "legend": {"color": "independent"}},
      "concat": [
        {"width": 92, "height": 30, "data": {"values": []}, "mark": "text"},
        {"width": 259, "height": 30, "view": {"fill": "#ebebeb"},
         "data": {"values": [{"l1": "Children of Non-White Fathers:", "l2": "DD 0.0044 (SE 0.0029)"}]},
         "layer": [
           {"mark": {"type": "text", "fontSize": 14.5, "baseline": "middle", "color": "#222"}, "encoding": {"text": {"field": "l1"}, "x": {"datum": 0.5, "type": "quantitative", "scale": {"domain": [0, 1]}, "axis": null}, "y": {"datum": 9.5, "type": "quantitative", "scale": {"domain": [0, 30], "range": [0, 30]}, "axis": null}}},
           {"mark": {"type": "text", "fontSize": 14.5, "baseline": "middle", "color": "#222"}, "encoding": {"text": {"field": "l2"}, "x": {"datum": 0.5, "type": "quantitative", "scale": {"domain": [0, 1]}, "axis": null}, "y": {"datum": 24, "type": "quantitative", "scale": {"domain": [0, 30], "range": [0, 30]}, "axis": null}}}
         ]},
        {"width": 259, "height": 30, "view": {"fill": "#ebebeb"},
         "data": {"values": [{"l1": "Children of White Fathers:", "l2": "DD -0.0013 (SE 0.0019)"}]},
         "layer": [
           {"mark": {"type": "text", "fontSize": 14.5, "baseline": "middle", "color": "#222"}, "encoding": {"text": {"field": "l1"}, "x": {"datum": 0.5, "type": "quantitative", "scale": {"domain": [0, 1]}, "axis": null}, "y": {"datum": 9.5, "type": "quantitative", "scale": {"domain": [0, 30], "range": [0, 30]}, "axis": null}}},
           {"mark": {"type": "text", "fontSize": 14.5, "baseline": "middle", "color": "#222"}, "encoding": {"text": {"field": "l2"}, "x": {"datum": 0.5, "type": "quantitative", "scale": {"domain": [0, 1]}, "axis": null}, "y": {"datum": 24, "type": "quantitative", "scale": {"domain": [0, 30], "range": [0, 30]}, "axis": null}}}
         ]},
        {"width": 92, "height": 121, "data": {"values": []}, "mark": "text"},
        {"width": 259, "height": 121,
         "layer": [
           {"data": {"values": [{"start": 1967, "end": 1980, "dd": 0.0044}]}, "mark": {"type": "rule", "color": "#bdbdbd", "strokeDash": [4, 3], "strokeWidth": 1},
            "encoding": {"x": {"field": "start", "type": "quantitative", "scale": {"domain": [1959.1, 1980.8], "nice": false, "zero": false}, "axis": {"values": [1960, 1965, 1970, 1975, 1980], "tickCount": 30, "format": "d", "title": null, "grid": true}}}},
           {"data": {"values": [{"start": 1967, "end": 1980, "dd": 0.0044}]}, "mark": {"type": "rule", "color": "#c8c8c8", "strokeDash": [4, 3], "strokeWidth": 1},
            "encoding": {"y": {"datum": 0, "type": "quantitative", "scale": {"domain": [-0.0127, 0.0216], "nice": false, "zero": false}, "axis": {"values": [-0.01, 0, 0.01, 0.02], "tickCount": 30, "labelExpr": "datum.value < 0 ? '-' + format(-datum.value, '.2f') : format(datum.value, '.2f')", "labelOverlap": false, "title": "Child 9-18 Literate", "titleFontSize": 18.5, "titlePadding": 12, "titleY": 58, "labelPadding": 1, "grid": true}}}},
           {"data": {"name": "cNW"}, "mark": {"type": "rule", "color": "#1d3f38", "strokeWidth": 2},
            "encoding": {"x": {"field": "year", "type": "quantitative", "scale": {"domain": [1959.1, 1980.8], "nice": false, "zero": false}, "axis": {"values": [1960, 1965, 1970, 1975, 1980], "tickCount": 30, "format": "d", "title": null, "grid": true}},
                         "y": {"field": "lo95", "type": "quantitative", "scale": {"domain": [-0.0127, 0.0216], "nice": false, "zero": false}, "axis": {"values": [-0.01, 0, 0.01, 0.02], "tickCount": 30, "labelExpr": "datum.value < 0 ? '-' + format(-datum.value, '.2f') : format(datum.value, '.2f')", "labelOverlap": false, "title": "Child 9-18 Literate", "titleFontSize": 18.5, "titlePadding": 12, "titleY": 58, "labelPadding": 1, "grid": true}},
                         "y2": {"field": "hi95"}}},
           {"data": {"name": "cNW"}, "mark": {"type": "rule", "color": "#48b4f0", "strokeWidth": 6.5},
            "encoding": {"x": {"field": "year", "type": "quantitative"}, "y": {"field": "lo90", "type": "quantitative"}, "y2": {"field": "hi90"}}},
           {"data": {"values": [{"start": 1967, "end": 1980, "dd": 0.0044}]}, "mark": {"type": "rule", "color": "#40309a", "strokeDash": [3, 2.2], "strokeWidth": 3},
            "encoding": {"x": {"field": "start", "type": "quantitative"}, "x2": {"field": "end"}, "y": {"field": "dd", "type": "quantitative"}}},
           {"data": {"name": "cNW"}, "mark": {"type": "point", "filled": true, "size": 160, "color": "#d81b60", "opacity": 1},
            "encoding": {"x": {"field": "year", "type": "quantitative"}, "y": {"field": "est", "type": "quantitative"}}}
         ]},
        {"width": 259, "height": 121,
         "layer": [
           {"data": {"values": [{"start": 1967, "end": 1980, "dd": -0.0013}]}, "mark": {"type": "rule", "color": "#bdbdbd", "strokeDash": [4, 3], "strokeWidth": 1},
            "encoding": {"x": {"field": "start", "type": "quantitative", "scale": {"domain": [1959.15, 1980.8], "nice": false, "zero": false}, "axis": {"values": [1960, 1965, 1970, 1975, 1980], "tickCount": 30, "format": "d", "title": null, "grid": true}}}},
           {"data": {"values": [{"start": 1967, "end": 1980, "dd": -0.0013}]}, "mark": {"type": "rule", "color": "#c8c8c8", "strokeDash": [4, 3], "strokeWidth": 1},
            "encoding": {"y": {"datum": 0, "type": "quantitative", "scale": {"domain": [-0.0127, 0.0216], "nice": false, "zero": false}, "axis": {"values": [-0.01, 0, 0.01, 0.02], "tickCount": 30, "labels": false, "ticks": false, "domain": false, "title": null, "grid": true}}}},
           {"data": {"name": "cW"}, "mark": {"type": "rule", "strokeWidth": 2},
            "encoding": {"x": {"field": "year", "type": "quantitative", "scale": {"domain": [1959.15, 1980.8], "nice": false, "zero": false}, "axis": {"values": [1960, 1965, 1970, 1975, 1980], "tickCount": 30, "format": "d", "title": null, "grid": true}},
                         "y": {"field": "lo95", "type": "quantitative", "scale": {"domain": [-0.0127, 0.0216], "nice": false, "zero": false}, "axis": {"values": [-0.01, 0, 0.01, 0.02], "tickCount": 30, "labels": false, "ticks": false, "domain": false, "title": null, "grid": true}},
                         "y2": {"field": "hi95"},
                         "color": {"datum": "95% CI", "type": "nominal", "scale": {"domain": ["Estimate", "90% CI", "95% CI", "DD"], "range": ["#d81b60", "#48b4f0", "#1d3f38", "#40309a"]},
                           "legend": {"title": null, "orient": "none", "legendX": 276, "legendY": 23, "padding": 0, "rowPadding": 0, "symbolSize": 130, "labelFontSize": 15, "labelOffset": 2,
                             "encode": {"symbols": {"update": {
                               "shape": {"signal": "datum.value === 'Estimate' ? 'circle' : datum.value === '90% CI' ? 'M-1,-0.42H1V0.42H-1Z' : 'M-1,0H1'"},
                               "fill": {"signal": "datum.value === 'Estimate' ? '#d81b60' : datum.value === '90% CI' ? '#48b4f0' : 'transparent'"},
                               "stroke": {"signal": "datum.value === '95% CI' ? '#1d3f38' : datum.value === 'DD' ? '#40309a' : 'transparent'"},
                               "strokeWidth": {"signal": "datum.value === 'DD' ? 3 : datum.value === '95% CI' ? 1.6 : 0"},
                               "strokeDash": {"signal": "datum.value === 'DD' ? [2.4, 1.6] : [1, 0]"},
                               "opacity": {"value": 1},
                               "size": {"value": 130}
                             }}}}}}},
           {"data": {"name": "cW"}, "mark": {"type": "rule", "strokeWidth": 6.5},
            "encoding": {"x": {"field": "year", "type": "quantitative"}, "y": {"field": "lo90", "type": "quantitative"}, "y2": {"field": "hi90"}, "color": {"datum": "90% CI", "type": "nominal"}}},
           {"data": {"values": [{"start": 1967, "end": 1980, "dd": -0.0013}]}, "mark": {"type": "rule", "strokeDash": [3, 2.2], "strokeWidth": 3},
            "encoding": {"x": {"field": "start", "type": "quantitative"}, "x2": {"field": "end"}, "y": {"field": "dd", "type": "quantitative"}, "color": {"datum": "DD", "type": "nominal"}}},
           {"data": {"name": "cW"}, "mark": {"type": "point", "filled": true, "size": 160, "opacity": 1},
            "encoding": {"x": {"field": "year", "type": "quantitative"}, "y": {"field": "est", "type": "quantitative"}, "color": {"datum": "Estimate", "type": "nominal"}}}
         ]}
      ]
    },
    {
      "width": 781, "height": 215,
      "layer": [
        {"data": {"values": [{"t": "Father's Birth Cohort"}]}, "mark": {"type": "text", "fontSize": 17.5, "align": "center", "baseline": "middle"},
         "encoding": {"text": {"field": "t"}, "x": {"datum": 358, "type": "quantitative", "scale": {"domain": [0, 781], "range": [0, 781]}, "axis": null}, "y": {"datum": 15, "type": "quantitative", "scale": {"domain": [0, 215], "range": [0, 215]}, "axis": null}}},
        {"data": {"values": [{"t": "0.68-1.05 million observations, 1,752 clusters, pre-1968 father’s birth cohort means: non-white 0.9567, white 0.9836"}]}, "mark": {"type": "text", "fontSize": 13.3, "fontStyle": "italic", "align": "left", "baseline": "middle"},
         "encoding": {"text": {"field": "t"}, "x": {"datum": 46, "type": "quantitative", "scale": {"domain": [0, 781], "range": [0, 781]}, "axis": null}, "y": {"datum": 37.5, "type": "quantitative", "scale": {"domain": [0, 215], "range": [0, 215]}, "axis": null}}},
        {"data": {"values": [{"t": "(c)"}]}, "mark": {"type": "text", "fontSize": 17, "fontWeight": "bold", "align": "right", "baseline": "middle"},
         "encoding": {"text": {"field": "t"}, "x": {"datum": 309.5, "type": "quantitative", "scale": {"domain": [0, 781], "range": [0, 781]}, "axis": null}, "y": {"datum": 72.5, "type": "quantitative", "scale": {"domain": [0, 215], "range": [0, 215]}, "axis": null}}},
        {"data": {"values": [{"t": "Literacy: Children Ages 9-18"}]}, "mark": {"type": "text", "fontSize": 17, "align": "left", "baseline": "middle", "dx": 4.5},
         "encoding": {"text": {"field": "t"}, "x": {"datum": 309.5, "type": "quantitative", "scale": {"domain": [0, 781], "range": [0, 781]}, "axis": null}, "y": {"datum": 72.5, "type": "quantitative", "scale": {"domain": [0, 215], "range": [0, 215]}, "axis": null}}},
        {"data": {"values": [{"t": "Notes"}]}, "mark": {"type": "text", "fontSize": 16.5, "fontStyle": "italic", "align": "left", "baseline": "middle"},
         "encoding": {"text": {"field": "t"}, "x": {"datum": 8, "type": "quantitative", "scale": {"domain": [0, 781], "range": [0, 781]}, "axis": null}, "y": {"datum": 104, "type": "quantitative", "scale": {"domain": [0, 215], "range": [0, 215]}, "axis": null}}},
        {"data": {"values": [{"t": ": Graphs show dynamic and post-treatment average (DD) estimates for the respective subgroups,"}]}, "mark": {"type": "text", "fontSize": 16.5, "align": "left", "baseline": "middle"},
         "encoding": {"text": {"field": "t"}, "x": {"datum": 45.6, "type": "quantitative", "scale": {"domain": [0, 781], "range": [0, 781]}, "axis": null}, "y": {"datum": 104, "type": "quantitative", "scale": {"domain": [0, 215], "range": [0, 215]}, "axis": null}}},
        {"data": {"values": [{"t": "with 90% and 95% confidence intervals for dynamic estimates.  Data are from the IPUMS sample of the"}]}, "mark": {"type": "text", "fontSize": 16.5, "align": "left", "baseline": "middle"},
         "encoding": {"text": {"field": "t"}, "x": {"datum": 8, "type": "quantitative", "scale": {"domain": [0, 781], "range": [0, 781]}, "axis": null}, "y": {"datum": 124, "type": "quantitative", "scale": {"domain": [0, 215], "range": [0, 215]}, "axis": null}}},
        {"data": {"values": [{"t": "2010 census. All regressions include fixed effects for (father’s) birth cohort, birth municipality, and racial"}]}, "mark": {"type": "text", "fontSize": 16.5, "align": "left", "baseline": "middle"},
         "encoding": {"text": {"field": "t"}, "x": {"datum": 8, "type": "quantitative", "scale": {"domain": [0, 781], "range": [0, 781]}, "axis": null}, "y": {"datum": 144, "type": "quantitative", "scale": {"domain": [0, 215], "range": [0, 215]}, "axis": null}}},
        {"data": {"values": [{"t": "category.  For children’s literacy, regressions also control for own age and age squared.  Standard errors"}]}, "mark": {"type": "text", "fontSize": 16.5, "align": "left", "baseline": "middle"},
         "encoding": {"text": {"field": "t"}, "x": {"datum": 8, "type": "quantitative", "scale": {"domain": [0, 781], "range": [0, 781]}, "axis": null}, "y": {"datum": 164, "type": "quantitative", "scale": {"domain": [0, 215], "range": [0, 215]}, "axis": null}}},
        {"data": {"values": [{"t": "are clustered by (father’s) birth municipality."}]}, "mark": {"type": "text", "fontSize": 16.5, "align": "left", "baseline": "middle"},
         "encoding": {"text": {"field": "t"}, "x": {"datum": 8, "type": "quantitative", "scale": {"domain": [0, 781], "range": [0, 781]}, "axis": null}, "y": {"datum": 184, "type": "quantitative", "scale": {"domain": [0, 215], "range": [0, 215]}, "axis": null}}}
      ]
    }
  ]
}
